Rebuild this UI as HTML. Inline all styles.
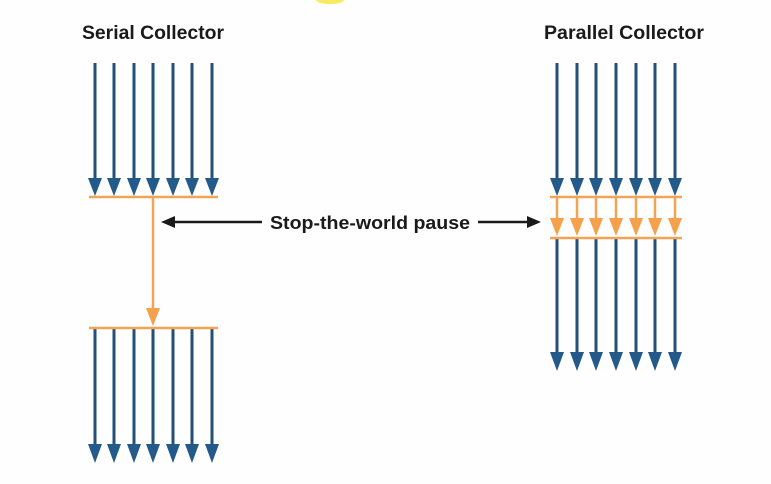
<!DOCTYPE html>
<html><head><meta charset="utf-8"><style>
html,body{margin:0;padding:0;background:#fff;}
svg{display:block;}
text{font-family:"Liberation Sans",sans-serif;font-weight:bold;fill:#1a1a1a;}
</style></head><body>
<svg width="771" height="484" viewBox="0 0 771 484" xmlns="http://www.w3.org/2000/svg">
<rect width="771" height="484" fill="#fdfefd"/>
<ellipse cx="330" cy="0" rx="14" ry="4" fill="#f5e63a" opacity="0.8"/>
<text x="153" y="39" font-size="19" text-anchor="middle" textLength="142" lengthAdjust="spacingAndGlyphs">Serial Collector</text>
<text x="624" y="39" font-size="19" text-anchor="middle" textLength="160" lengthAdjust="spacingAndGlyphs">Parallel Collector</text>
<text x="370" y="229" font-size="18" text-anchor="middle" textLength="200" lengthAdjust="spacingAndGlyphs">Stop-the-world pause</text>
<g stroke="#1a1a1a" stroke-width="2.5">
<line x1="172" y1="222" x2="262" y2="222"/>
<line x1="478" y1="222" x2="530" y2="222"/>
</g>
<polygon points="161,222 175,216 175,228" fill="#1a1a1a"/>
<polygon points="541,222 527,216 527,228" fill="#1a1a1a"/>

<g id="blue" stroke="#234f78" stroke-width="3" fill="#235a8a">
<!-- serial top -->
<g>
<line x1="95" y1="63" x2="95" y2="182"/><polygon stroke="none" points="88,178 102,178 95,196"/>
<line x1="114" y1="63" x2="114" y2="182"/><polygon stroke="none" points="107,178 121,178 114,196"/>
<line x1="134" y1="63" x2="134" y2="182"/><polygon stroke="none" points="127,178 141,178 134,196"/>
<line x1="153" y1="63" x2="153" y2="182"/><polygon stroke="none" points="146,178 160,178 153,196"/>
<line x1="173" y1="63" x2="173" y2="182"/><polygon stroke="none" points="166,178 180,178 173,196"/>
<line x1="192" y1="63" x2="192" y2="182"/><polygon stroke="none" points="185,178 199,178 192,196"/>
<line x1="212" y1="63" x2="212" y2="182"/><polygon stroke="none" points="205,178 219,178 212,196"/>
</g>
<!-- serial bottom -->
<g>
<line x1="95" y1="328" x2="95" y2="448"/><polygon stroke="none" points="88,444 102,444 95,463"/>
<line x1="114" y1="328" x2="114" y2="448"/><polygon stroke="none" points="107,444 121,444 114,463"/>
<line x1="134" y1="328" x2="134" y2="448"/><polygon stroke="none" points="127,444 141,444 134,463"/>
<line x1="153" y1="328" x2="153" y2="448"/><polygon stroke="none" points="146,444 160,444 153,463"/>
<line x1="173" y1="328" x2="173" y2="448"/><polygon stroke="none" points="166,444 180,444 173,463"/>
<line x1="192" y1="328" x2="192" y2="448"/><polygon stroke="none" points="185,444 199,444 192,463"/>
<line x1="212" y1="328" x2="212" y2="448"/><polygon stroke="none" points="205,444 219,444 212,463"/>
</g>
<!-- parallel top -->
<g>
<line x1="557" y1="63" x2="557" y2="182"/><polygon stroke="none" points="550,178 564,178 557,196"/>
<line x1="577" y1="63" x2="577" y2="182"/><polygon stroke="none" points="570,178 584,178 577,196"/>
<line x1="596" y1="63" x2="596" y2="182"/><polygon stroke="none" points="589,178 603,178 596,196"/>
<line x1="616" y1="63" x2="616" y2="182"/><polygon stroke="none" points="609,178 623,178 616,196"/>
<line x1="636" y1="63" x2="636" y2="182"/><polygon stroke="none" points="629,178 643,178 636,196"/>
<line x1="655" y1="63" x2="655" y2="182"/><polygon stroke="none" points="648,178 662,178 655,196"/>
<line x1="675" y1="63" x2="675" y2="182"/><polygon stroke="none" points="668,178 682,178 675,196"/>
</g>
<!-- parallel bottom -->
<g>
<line x1="557" y1="238" x2="557" y2="356"/><polygon stroke="none" points="550,352 564,352 557,371"/>
<line x1="577" y1="238" x2="577" y2="356"/><polygon stroke="none" points="570,352 584,352 577,371"/>
<line x1="596" y1="238" x2="596" y2="356"/><polygon stroke="none" points="589,352 603,352 596,371"/>
<line x1="616" y1="238" x2="616" y2="356"/><polygon stroke="none" points="609,352 623,352 616,371"/>
<line x1="636" y1="238" x2="636" y2="356"/><polygon stroke="none" points="629,352 643,352 636,371"/>
<line x1="655" y1="238" x2="655" y2="356"/><polygon stroke="none" points="648,352 662,352 655,371"/>
<line x1="675" y1="238" x2="675" y2="356"/><polygon stroke="none" points="668,352 682,352 675,371"/>
</g>
</g>

<g stroke="#f0a454" stroke-width="2.5" fill="#f5a04a">
<line x1="89" y1="197" x2="218" y2="197"/>
<line x1="89" y1="328" x2="218" y2="328"/>
<line x1="153" y1="197" x2="153" y2="312"/><polygon stroke="none" points="146,308 160,308 153,326"/>
<line x1="550" y1="197" x2="682" y2="197"/>
<line x1="550" y1="238" x2="682" y2="238"/>
<line x1="557" y1="197" x2="557" y2="222"/><polygon stroke="none" points="550,218 564,218 557,236"/>
<line x1="577" y1="197" x2="577" y2="222"/><polygon stroke="none" points="570,218 584,218 577,236"/>
<line x1="596" y1="197" x2="596" y2="222"/><polygon stroke="none" points="589,218 603,218 596,236"/>
<line x1="616" y1="197" x2="616" y2="222"/><polygon stroke="none" points="609,218 623,218 616,236"/>
<line x1="636" y1="197" x2="636" y2="222"/><polygon stroke="none" points="629,218 643,218 636,236"/>
<line x1="655" y1="197" x2="655" y2="222"/><polygon stroke="none" points="648,218 662,218 655,236"/>
<line x1="675" y1="197" x2="675" y2="222"/><polygon stroke="none" points="668,218 682,218 675,236"/>
</g>
</svg>
</body></html>
